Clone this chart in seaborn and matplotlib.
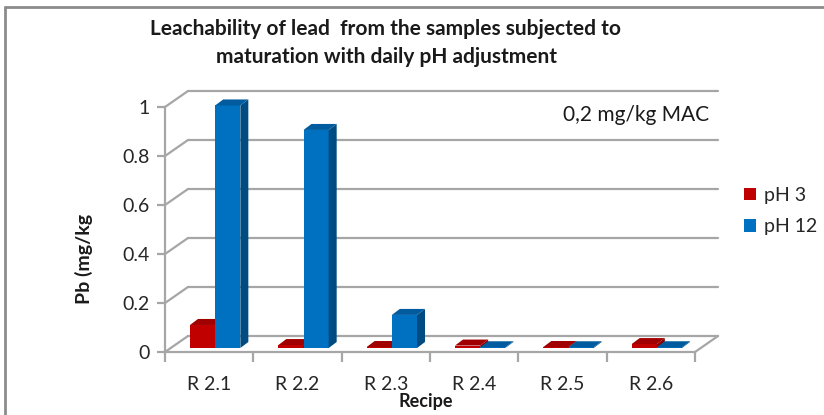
import numpy as np
import pandas as pd
import matplotlib
matplotlib.use("Agg")
import matplotlib.pyplot as plt
import seaborn as sns
from matplotlib.patches import Polygon, Patch
from matplotlib.lines import Line2D
from matplotlib.transforms import IdentityTransform, ScaledTranslation

# data
recipes = ['R 2.1', 'R 2.2', 'R 2.3', 'R 2.4', 'R 2.5', 'R 2.6']
ph3 = [0.094, 0.012, 0.004, 0.01, 0.004, 0.016]
ph12 = [0.99, 0.89, 0.135, 0.003, 0.003, 0.003]
series = ['pH 3', 'pH 12']
yticks = [0, 0.2, 0.4, 0.6, 0.8, 1]
ytick_labels = ['0', '0.2', '0.4', '0.6', '0.8', '1']

df = pd.DataFrame({
    'Recipe': recipes * 2,
    'Pb': ph3 + ph12,
    'pH': [series[0]] * len(recipes) + [series[1]] * len(recipes),
})

front = {'pH 3': '#C00000', 'pH 12': '#0070C0'}
side = {'pH 3': '#8A0000', 'pH 12': '#004B82'}
top = {'pH 3': '#A00000', 'pH 12': '#005C9E'}
order_z = {'pH 3': 3.0, 'pH 12': 3.2}
grid_col = '#A6A6A6'

sns.set_style('white')
plt.rcParams['font.family'] = ['Lato', 'DejaVu Sans']

W, H = 824, 415
fig = plt.figure(figsize=(W / 100, H / 100), dpi=100)
ax = fig.add_axes([165 / W, 63 / H, 530 / W, 245 / H])
ax.patch.set_alpha(0)

sns.barplot(data=df, x='Recipe', y='Pb', hue='pH', palette=front, width=0.57,
            saturation=1, ax=ax, legend=False)
ax.set_ylim(0, 1)
ax.set_xlim(-0.5, len(recipes) - 0.5)

# 3d depth of the wall (px) and of the bars
dx, dy = 23, 16
bx, by = 6, 4
bdx, bdy = 8, 6
ident = IdentityTransform()

x0, y0 = ax.transAxes.transform((0, 0))
x1, y1 = ax.transAxes.transform((1, 1))

# back wall gridlines + diagonals on the left
for t in yticks:
    _, yp = ax.transData.transform((0, t))
    ax.add_line(Line2D([x0 + dx, x1 + dx], [yp + dy, yp + dy], color=grid_col,
                       lw=1.6, transform=ident, zorder=0.5, clip_on=False))
    ax.add_line(Line2D([x0, x0 + dx], [yp, yp + dy], color=grid_col,
                       lw=1.6, transform=ident, zorder=0.5, clip_on=False))
# floor right edge
ax.add_line(Line2D([x1, x1 + dx], [y0, y0 + dy], color=grid_col, lw=1.6,
                   transform=ident, zorder=0.5, clip_on=False))

# bars: shift to mid depth and add side/top faces
shift = ScaledTranslation(bx / 100, by / 100, fig.dpi_scale_trans)
for p in list(ax.patches):
    if p.get_height() <= 0:
        continue
    col = p.get_facecolor()
    key = 'pH 3' if np.allclose(col[:3], matplotlib.colors.to_rgb(front['pH 3'])) else 'pH 12'
    z = order_z[key]
    p.set_transform(ax.transData + shift)
    p.set_edgecolor('none')
    p.set_zorder(z)
    p.set_clip_on(False)
    (px0, py0) = ax.transData.transform((p.get_x(), 0))
    (px1, py1) = ax.transData.transform((p.get_x() + p.get_width(), p.get_height()))
    px0 += bx; px1 += bx; py0 += by; py1 += by
    sidef = Polygon([(px1, py0), (px1 + bdx, py0 + bdy), (px1 + bdx, py1 + bdy), (px1, py1)],
                    closed=True, facecolor=side[key], edgecolor='none',
                    transform=ident, zorder=z, clip_on=False)
    topf = Polygon([(px0, py1), (px1, py1), (px1 + bdx, py1 + bdy), (px0 + bdx, py1 + bdy)],
                   closed=True, facecolor=top[key], edgecolor='none',
                   transform=ident, zorder=z, clip_on=False)
    ax.add_patch(sidef)
    ax.add_patch(topf)

# front axes
sns.despine(ax=ax, top=True, right=True)
for s in ['left', 'bottom']:
    ax.spines[s].set_color(grid_col)
    ax.spines[s].set_linewidth(1.6)
    ax.spines[s].set_zorder(5)
ax.set_yticks(yticks)
ax.set_yticklabels(ytick_labels)
ax.set_xticks(range(len(recipes)))
ax.set_xticklabels(recipes)
ax.set_xticks(np.arange(-0.5, len(recipes)), minor=True)
ax.tick_params(axis='y', left=True, length=6, width=1.6, color=grid_col, pad=5,
               labelsize=14, labelcolor='#262626')
ax.tick_params(axis='x', which='major', length=0, pad=17, labelsize=14,
               labelcolor='#262626')
ax.tick_params(axis='x', which='minor', bottom=True, length=7, width=1.6, color=grid_col)
ax.set_xlabel('')
ax.set_ylabel('')

fig.text(84 / W, 1 - 259 / H, 'Pb (mg/kg', rotation=90, ha='center', va='center',
         fontsize=14, fontweight='bold', color='#1a1a1a')
fig.text(426 / W, 1 - 401 / H, 'Recipe', ha='center', va='center',
         fontsize=13, fontweight='bold', color='#1a1a1a')
fig.text(386 / W, 1 - 43 / H,
         'Leachability of lead  from the samples subjected to\nmaturation with daily pH adjustment',
         ha='center', va='center', fontsize=15, fontweight='bold', linespacing=1.55,
         color='#1a1a1a')
fig.text(636 / W, 1 - 115 / H, '0,2 mg/kg MAC', ha='center', va='center',
         fontsize=15, color='#1a1a1a')

handles = [Patch(facecolor=front[s], edgecolor='none') for s in series]
fig.legend(handles, series, loc='center left', bbox_to_anchor=(744 / W, 1 - 211 / H),
           frameon=False, fontsize=14, handlelength=0.6, handleheight=0.6,
           handletextpad=0.45, labelspacing=0.75, labelcolor='#262626',
           borderpad=0, borderaxespad=0)

# chart frame (only top and left edge visible)
fig.add_artist(Line2D([5, W + 5], [H - 7, H - 7], color='#8C8C8C', lw=2, transform=ident))
fig.add_artist(Line2D([5, 5], [-5, H - 7], color='#8C8C8C', lw=2, transform=ident))

fig.savefig('out.png', dpi=100)
